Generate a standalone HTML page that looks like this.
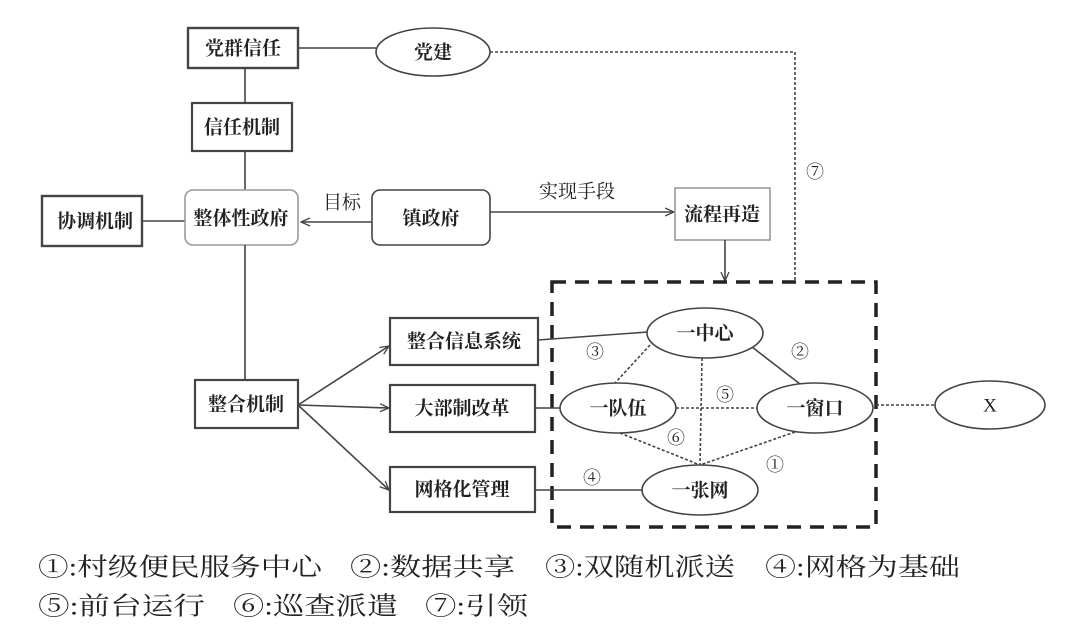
<!DOCTYPE html>
<html><head><meta charset="utf-8"><style>
html,body{margin:0;padding:0;background:#fff;}
svg{display:block;}
text{font-family:"Liberation Serif","Noto Serif CJK SC","Noto Sans CJK SC",serif;fill:#222;}
</style></head><body>
<svg width="1080" height="640" viewBox="0 0 1080 640" xmlns="http://www.w3.org/2000/svg">
<defs>
<marker id="a" markerWidth="10" markerHeight="10" refX="9" refY="5" orient="auto" markerUnits="userSpaceOnUse">
<path d="M0,1 L9,5 L0,9" fill="none" stroke="#444" stroke-width="1.3"/></marker>
</defs>
<g stroke="#444" stroke-width="1.6" fill="none">
<!-- top -->
<rect x="188" y="28" width="110" height="40" stroke-width="2.4"/>
<line x1="298" y1="48" x2="376" y2="48"/>
<ellipse cx="433" cy="52" rx="57" ry="24"/>
<path d="M490,52 H795 V282" stroke-dasharray="3,2"/>
<line x1="245" y1="68" x2="245" y2="103"/>
<rect x="192" y="103" width="100" height="48" stroke-width="2.2"/>
<line x1="245" y1="151" x2="245" y2="190"/>
<rect x="42" y="196" width="100" height="50" stroke-width="2.4"/>
<line x1="142" y1="221" x2="185" y2="221"/>
<rect x="185" y="190" width="113" height="55" rx="8" stroke="#999"/>
<rect x="372" y="190" width="118" height="55" rx="8"/>
<line x1="372" y1="222" x2="301" y2="222" marker-end="url(#a)"/>
<line x1="490" y1="212" x2="674" y2="212" marker-end="url(#a)"/>
<rect x="675" y="188" width="95" height="52" stroke="#999"/>
<line x1="725" y1="240" x2="725" y2="281" marker-end="url(#a)"/>
<line x1="245" y1="245" x2="245" y2="380"/>
<rect x="195" y="380" width="103" height="48" stroke-width="2.2"/>
<line x1="298" y1="405" x2="389" y2="346" marker-end="url(#a)"/>
<line x1="298" y1="405" x2="389" y2="408" marker-end="url(#a)"/>
<line x1="298" y1="405" x2="389" y2="490" marker-end="url(#a)"/>
<rect x="390" y="318" width="148" height="47" stroke-width="2.2"/>
<rect x="390" y="385" width="145" height="47" stroke-width="2.2"/>
<rect x="390" y="467" width="145" height="45" stroke-width="2.2"/>
<!-- dashed box -->
<rect x="552" y="282" width="324" height="245" stroke="#222" stroke-width="3.5" stroke-dasharray="14,9"/>
<line x1="538" y1="340" x2="648" y2="332"/>
<line x1="535" y1="408" x2="560" y2="408"/>
<line x1="535" y1="490" x2="642" y2="490"/>
<!-- inner -->
<line x1="650" y1="345" x2="615" y2="383" stroke-dasharray="3,2"/>
<line x1="752" y1="347" x2="800" y2="384"/>
<line x1="702" y1="358" x2="700" y2="465" stroke-dasharray="3,2"/>
<line x1="676" y1="408" x2="757" y2="408" stroke-dasharray="3,2"/>
<line x1="620" y1="433" x2="700" y2="465" stroke-dasharray="3,2"/>
<line x1="795" y1="432" x2="700" y2="465" stroke-dasharray="3,2"/>
<line x1="876" y1="405" x2="935" y2="405" stroke-dasharray="3,2"/>
<g fill="#fff">
<ellipse cx="705" cy="333" rx="58" ry="25"/>
<ellipse cx="618" cy="408" rx="58" ry="25"/>
<ellipse cx="815" cy="408" rx="58" ry="25"/>
<ellipse cx="700" cy="490" rx="58" ry="25"/>
<ellipse cx="990" cy="405" rx="55" ry="24"/>
</g>
</g>
<g font-size="19" text-anchor="middle" dominant-baseline="central" font-weight="bold">
<text x="243" y="49">党群信任</text>
<text x="433" y="53">党建</text>
<text x="242" y="128">信任机制</text>
<text x="95" y="222">协调机制</text>
<text x="241" y="219">整体性政府</text>
<text x="431" y="219">镇政府</text>
<text x="722" y="215">流程再造</text>
<text x="246" y="405">整合机制</text>
<text x="464" y="342">整合信息系统</text>
<text x="462" y="409">大部制改革</text>
<text x="462" y="490">网格化管理</text>
<text x="705" y="334">一中心</text>
<text x="618" y="409">一队伍</text>
<text x="815" y="409">一窗口</text>
<text x="700" y="491">一张网</text>
<text x="990" y="406" font-weight="normal">X</text>
<text x="342" y="203" font-weight="normal">目标</text>
<text x="577" y="192" font-weight="normal">实现手段</text>
</g>
<g font-size="18" text-anchor="middle" dominant-baseline="central">
<text x="815" y="172">⑦</text>
<text x="595" y="352">③</text>
<text x="800" y="352">②</text>
<text x="725" y="395">⑤</text>
<text x="676" y="438">⑥</text>
<text x="775" y="465">①</text>
<text x="592" y="478">④</text>
</g>
<g font-size="25" dominant-baseline="central">
<text x="38" y="568" textLength="284" lengthAdjust="spacingAndGlyphs">①:村级便民服务中心</text>
<text x="350" y="568" textLength="165" lengthAdjust="spacingAndGlyphs">②:数据共享</text>
<text x="545" y="568" textLength="190" lengthAdjust="spacingAndGlyphs">③:双随机派送</text>
<text x="765" y="568" textLength="195" lengthAdjust="spacingAndGlyphs">④:网格为基础</text>
<text x="38" y="607" textLength="167" lengthAdjust="spacingAndGlyphs">⑤:前台运行</text>
<text x="233" y="607" textLength="165" lengthAdjust="spacingAndGlyphs">⑥:巡查派遣</text>
<text x="425" y="607" textLength="103" lengthAdjust="spacingAndGlyphs">⑦:引领</text>
</g>
</svg>
</body></html>
